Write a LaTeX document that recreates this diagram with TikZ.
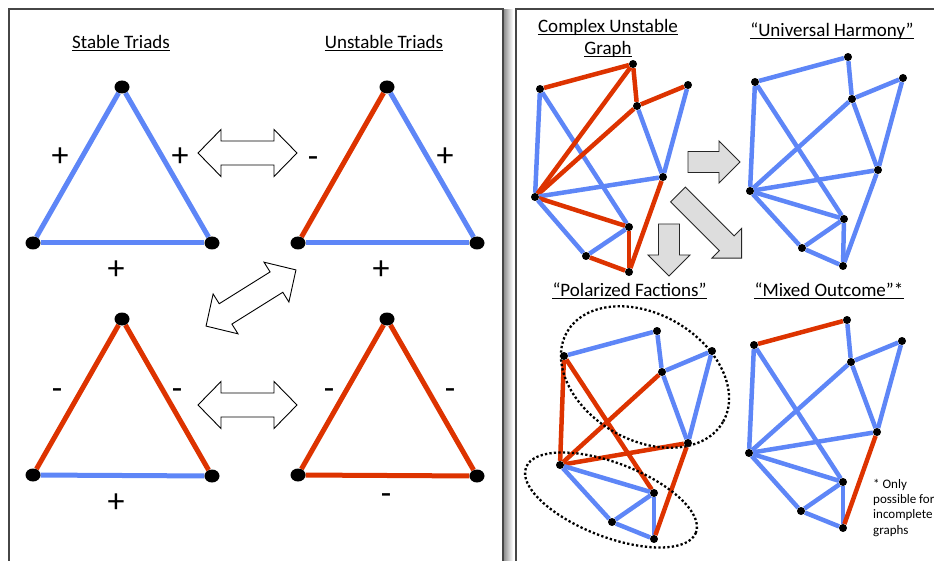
\documentclass[tikz,border=0pt]{standalone}
\usepackage{fontspec}
\setmainfont{Carlito}
\usetikzlibrary{shapes.geometric,backgrounds}
\definecolor{eblue}{RGB}{94,134,247}
\definecolor{ered}{RGB}{221,51,0}
\definecolor{agray}{RGB}{221,221,221}
\definecolor{framec}{RGB}{70,70,70}
\tikzset{
  pics/dblarrow/.style={code={\draw[fill=white,line width=0.9pt,line join=miter]
    (-#1,0) -- (-#1+23,-23.5) -- (-#1+23,-12) -- (#1-23,-12) -- (#1-23,-23.5) -- (#1,0)
    -- (#1-23,23.5) -- (#1-23,12) -- (-#1+23,12) -- (-#1+23,23.5) -- cycle;}},
  pics/grayarrow/.style={code={\draw[fill=agray,draw=black!85,line width=0.9pt,line join=miter]
    (0,-10.5) -- (#1-21,-10.5) -- (#1-21,-21) -- (#1,0) -- (#1-21,21) -- (#1-21,10.5) -- (0,10.5) -- cycle;}}
}
\newcommand\ultitle[3]{\node[ttl,anchor=base] (#1) at (#2) {#3};
  \draw[ulline] ([yshift=-1.8pt]#1.base west) -- ([yshift=-1.8pt]#1.base east);}
\begin{document}
\begin{tikzpicture}[x=1pt,y=-1pt,
  tdot/.style={ellipse,fill=black,minimum width=15pt,minimum height=13pt,inner sep=0},
  gdot/.style={circle,fill=black,minimum size=8pt,inner sep=0},
  tedge/.style={line width=5pt},
  gedge/.style={line width=4.5pt},
  bl/.style={draw=eblue}, rd/.style={draw=ered},
  ttl/.style={font=\fontsize{19}{22}\selectfont,inner sep=0},
  ulline/.style={line width=1.2pt},
  lab/.style={font=\fontsize{34}{36}\selectfont,inner sep=0},
  minus/.style={lab,yshift=-4pt},
  note/.style={font=\fontsize{13}{15.4}\selectfont,inner sep=0,align=left},
  dotring/.style={draw=black,line width=2.3pt,dash pattern=on 2.3pt off 2.2pt},
  framel/.style={draw=framec,line width=1.2pt}]
\useasboundingbox (0,0) rectangle (934,561);

% panels
\shade[left color=black!45,right color=white] (503.5,10) rectangle (513,575);
\draw[framel] (9,9) rectangle (503,580);
\draw[framel] (516,580) -- (516,9) -- (945,9);

% titles
\ultitle{tst}{121,49}{Stable Triads}
\ultitle{tut}{384,49}{Unstable Triads}
\ultitle{tca}{608,33}{Complex Unstable}
\ultitle{tcb}{608,54.5}{Graph}
\ultitle{tuh}{832,37}{“Universal Harmony”}
\ultitle{tpf}{629.5,297}{“Polarized Factions”}
\ultitle{tmo}{829,297}{“Mixed Outcome”*}

% triads
\node[tdot] (s1t) at (122,87) {};
\node[tdot] (s1l) at (33,243) {};
\node[tdot] (s1r) at (212,243) {};
\node[tdot] (u1t) at (387,87) {};
\node[tdot] (u1l) at (298,243) {};
\node[tdot] (u1r) at (477,243) {};
\node[tdot] (s2t) at (122,319) {};
\node[tdot] (s2l) at (33,475) {};
\node[tdot] (s2r) at (212,476) {};
\node[tdot] (u2t) at (387,319) {};
\node[tdot] (u2l) at (298,475) {};
\node[tdot] (u2r) at (477,476) {};
\begin{scope}[on background layer]
\draw[tedge,bl] (s1t) -- (s1l); \draw[tedge,bl] (s1t) -- (s1r); \draw[tedge,bl] (s1l) -- (s1r);
\draw[tedge,rd] (u1t) -- (u1l); \draw[tedge,bl] (u1t) -- (u1r); \draw[tedge,bl] (u1l) -- (u1r);
\draw[tedge,rd] (s2t) -- (s2l); \draw[tedge,rd] (s2t) -- (s2r); \draw[tedge,bl] (s2l) -- (s2r);
\draw[tedge,rd] (u2t) -- (u2l); \draw[tedge,rd] (u2t) -- (u2r); \draw[tedge,rd] (u2l) -- (u2r);
\end{scope}

% sign labels
\node[lab] (l1) at (60,157) {+};
\node[lab] (l2) at (180,157) {+};
\node[lab] (l3) at (116,270) {+};
\node[minus] (l4) at (313,158) {-};
\node[lab] (l5) at (445,157) {+};
\node[lab] (l6) at (381,270) {+};
\node[minus] (l7) at (57,390) {-};
\node[minus] (l8) at (177,390) {-};
\node[lab] (l9) at (116,503) {+};
\node[minus] (l10) at (329,390) {-};
\node[minus] (l11) at (450,390) {-};
\node[minus] (l12) at (386,495) {-};

% white double arrows
\pic at (247.5,153) {dblarrow=49.5};
\pic at (247.5,405) {dblarrow=49.5};
\pic[rotate=32] at (251,298) {dblarrow=53};

% graph 1: complex unstable
\foreach \n/\p in {A/{540,89},B/{633,64},C/{688,85},D/{637,106},E/{663,177},F/{535,197},G/{629,227},H/{586,256},I/{629,272}}
  \node[gdot] (a\n) at (\p) {};
% graph 2: universal harmony
\foreach \n/\p in {A/{755,82},B/{848,57},C/{903,78},D/{852,99},E/{878,170},F/{750,191},G/{844,219},H/{802,248},I/{843,266}}
  \node[gdot] (b\n) at (\p) {};
% graph 3: polarized
\foreach \n/\p in {A/{564,356},B/{657,331},C/{712,351},D/{662,372},E/{688,443},F/{560,465},G/{654,493},H/{612,522},I/{654,539}}
  \node[gdot] (c\n) at (\p) {};
% graph 4: mixed
\foreach \n/\p in {A/{754,345},B/{847,320},C/{902,341},D/{851,362},E/{877,432},F/{749,453},G/{843,482},H/{801,511},I/{843,528}}
  \node[gdot] (d\n) at (\p) {};

\begin{scope}[on background layer]
\foreach \u/\v/\c in {A/B/rd,B/D/rd,D/C/rd,C/E/bl,D/E/bl,A/F/bl,A/G/bl,F/B/rd,F/D/rd,F/E/bl,F/G/rd,F/H/bl,H/G/bl,H/I/rd,G/I/rd,E/I/rd}
  \draw[gedge,\c] (a\u) -- (a\v);
\foreach \u/\v in {A/B,B/D,D/C,C/E,D/E,A/F,A/G,F/D,F/E,F/G,F/H,H/G,H/I,G/I,E/I}
  \draw[gedge,bl] (b\u) -- (b\v);
\foreach \u/\v/\c in {A/B/bl,B/D/bl,D/C/bl,C/E/bl,D/E/bl,A/F/rd,A/G/rd,F/D/rd,F/E/rd,F/G/bl,F/H/bl,H/G/bl,H/I/bl,G/I/bl,E/I/rd}
  \draw[gedge,\c] (c\u) -- (c\v);
\foreach \u/\v/\c in {A/B/rd,B/D/bl,D/C/bl,C/E/bl,D/E/bl,A/F/bl,A/G/bl,F/D/bl,F/E/bl,F/G/bl,F/H/bl,H/G/bl,H/I/bl,G/I/bl,E/I/rd}
  \draw[gedge,\c] (d\u) -- (d\v);
\end{scope}

% dotted faction rings
\draw[dotring,rotate around={-30:(645,377)}] (645,377) ellipse [x radius=90,y radius=63];
\draw[dotring,rotate around={-21:(611,500)}] (611,500) ellipse [x radius=91,y radius=37];

% gray arrows
\pic at (688,162) {grayarrow=52};
\pic[rotate=-90] at (669,224) {grayarrow=52};
\pic[rotate=-45] at (678,194.5) {grayarrow=90};

% note
\node[note,anchor=base west] (nt) at (873,534.2) {* Only\\possible for\\incomplete\\graphs};
\end{tikzpicture}
\end{document}
